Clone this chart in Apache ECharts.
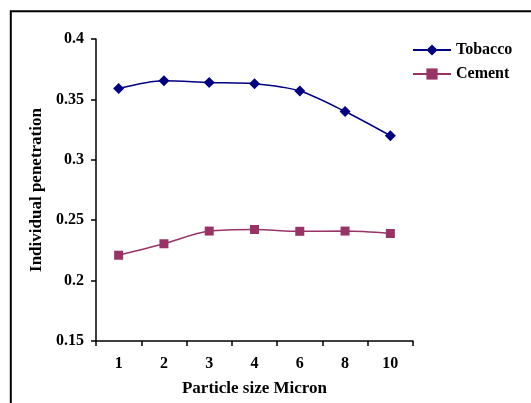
<!DOCTYPE html>
<html>
<head>
<meta charset="utf-8">
<script src="https://cdn.jsdelivr.net/npm/echarts@6/dist/echarts.min.js"></script>
<style>html,body{margin:0;padding:0;background:#fff;}#c{width:531px;height:403px;}</style>
</head>
<body>
<div id="c"></div>
<script>
var categories = ['1', '2', '3', '4', '6', '8', '10'];
var tobacco = [0.359, 0.3655, 0.364, 0.363, 0.357, 0.340, 0.320];
var cement = [0.221, 0.2305, 0.241, 0.2423, 0.2408, 0.241, 0.239];
var yMin = 0.15, yMax = 0.4, yStep = 0.05;

var font = 'Liberation Serif';
var chart = echarts.init(document.getElementById('c'), null, {renderer: 'canvas'});
chart.setOption({
  animation: false,
  backgroundColor: '#fff',
  graphic: [{
    type: 'rect', silent: true,
    shape: {x: 10.8, y: 11.2, width: 600, height: 500},
    style: {fill: 'none', stroke: '#000', lineWidth: 2}
  }],
  legend: {
    orient: 'vertical', left: 407, top: 37, itemGap: 8,
    itemWidth: 38, itemHeight: 14,
    textStyle: {fontFamily: font, fontWeight: 'bold', fontSize: 16, color: '#000'},
    data: ['Tobacco', 'Cement']
  },
  grid: {left: 96, top: 39, right: 118, bottom: 62, containLabel: false},
  xAxis: {
    type: 'category', data: categories, boundaryGap: true,
    name: 'Particle size Micron', nameLocation: 'middle', nameGap: 39,
    nameTextStyle: {fontFamily: font, fontWeight: 'bold', fontSize: 17, color: '#000'},
    axisLine: {lineStyle: {color: '#000', width: 1.5}},
    axisTick: {show: true, length: 5, alignWithLabel: false, lineStyle: {color: '#000', width: 1.5}},
    axisLabel: {fontFamily: font, fontWeight: 'bold', fontSize: 16, color: '#000', margin: 15},
    splitLine: {show: false}
  },
  yAxis: {
    type: 'value', min: yMin, max: yMax, interval: yStep,
    name: 'Individual penetration', nameLocation: 'middle', nameGap: 46,
    nameTextStyle: {fontFamily: font, fontWeight: 'bold', fontSize: 17, color: '#000'},
    axisLine: {show: true, lineStyle: {color: '#000', width: 1.5}},
    axisTick: {show: true, length: 5, lineStyle: {color: '#000', width: 1.5}},
    axisLabel: {fontFamily: font, fontWeight: 'bold', fontSize: 16, color: '#000', margin: 12,
      formatter: function (v) { return String(+v.toFixed(2)); }},
    splitLine: {show: false}
  },
  series: [{
    name: 'Tobacco', type: 'line', data: tobacco, smooth: 0.3,
    symbol: 'diamond', symbolSize: 11,
    itemStyle: {color: '#000080'}, lineStyle: {color: '#000080', width: 1.5}
  }, {
    name: 'Cement', type: 'line', data: cement, smooth: 0.3,
    symbol: 'rect', symbolSize: 9,
    itemStyle: {color: '#993366'}, lineStyle: {color: '#993366', width: 1.5}
  }]
});
</script>
</body>
</html>
